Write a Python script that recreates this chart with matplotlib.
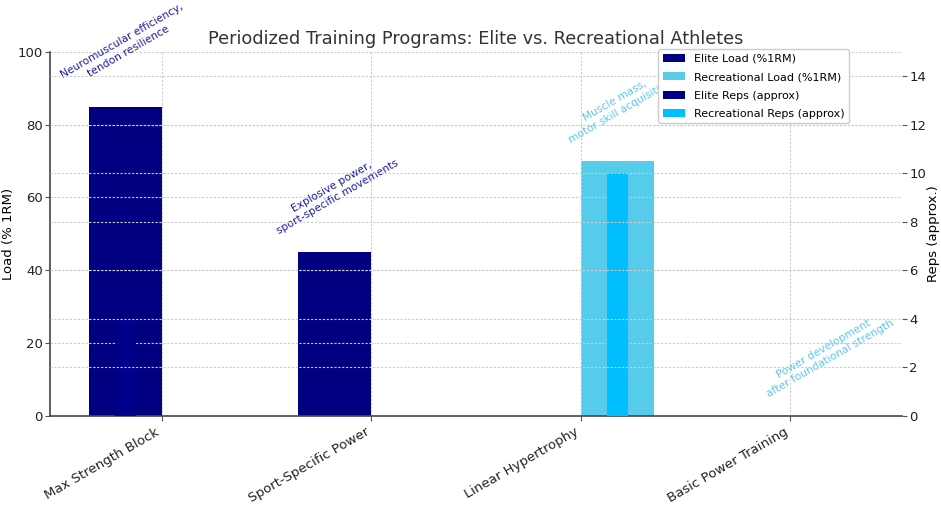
import matplotlib
matplotlib.use("Agg")
import matplotlib.pyplot as plt
import numpy as np

programs = ["Max Strength Block", "Sport-Specific Power", "Linear Hypertrophy", "Basic Power Training"]
elite_load = [85, 45, 0, 0]
rec_load = [0, 0, 70, 0]
elite_reps = [4, 0, 0, 0]
rec_reps = [0, 0, 10, 0]
notes = [
    ("Neuromuscular efficiency,\ntendon resilience", "elite"),
    ("Explosive power,\nsport-specific movements", "elite"),
    ("Muscle mass,\nmotor skill acquisition", "rec"),
    ("Power development\nafter foundational strength", "rec"),
]

NAVY = "#000080"
DARKBLUE = "#00008B"
REC = "#56CCEA"
DEEPSKY = "#00BFFF"

plt.rcParams["font.family"] = ["DejaVu Sans"]

fig = plt.figure(figsize=(9.41, 5.09), dpi=100)
ax = fig.add_axes([0.053, 0.183, 0.906, 0.715])
ax2 = ax.twinx()

x = np.arange(len(programs))
w = 0.35
ax.bar(x - w / 2, elite_load, w, color=NAVY, label="Elite Load (%1RM)")
ax.bar(x + w / 2, rec_load, w, color=REC, label="Recreational Load (%1RM)")
ax2.bar(x - w / 2, elite_reps, 0.1, color=DARKBLUE, label="Elite Reps (approx)")
ax2.bar(x + w / 2, rec_reps, 0.1, color=DEEPSKY, label="Recreational Reps (approx)")

ax.set_ylim(0, 100)
ax2.set_ylim(0, 15)
ax2.set_yticks(range(0, 15, 2))

# notes above the bar that carries the value
for i, (txt, grp) in enumerate(notes):
    if grp == "elite":
        xi, yi, c = x[i] - w / 2, elite_load[i], "#1a1aa0"
    else:
        xi, yi, c = x[i] + w / 2, rec_load[i], "#5cc8ea"
    ax.text(xi, yi + 4.5, txt, rotation=30, ha="center", va="bottom",
            fontsize=7.7, color=c, zorder=3)

ax.set_xticks(x)
ax.set_xticklabels(programs, rotation=30, ha="right", fontsize=9.5)
ax.set_ylabel("Load (% 1RM)", fontsize=9.5, labelpad=2)
ax2.set_ylabel("Reps (approx.)", fontsize=9.5, labelpad=0.5)
ax.tick_params(axis="y", labelsize=9.5, length=3.5, pad=1.5, color="#555555")
ax.tick_params(axis="x", length=3.5, color="#555555")
ax2.tick_params(axis="y", labelsize=9.5, length=3.5, pad=1.5, color="#555555")
for lab in ax.get_xticklabels() + ax.get_yticklabels() + ax2.get_yticklabels():
    lab.set_color("#222222")

grid_kw = dict(color="#cccccc", linestyle=(0, (2, 1.5)), linewidth=0.8)
ax.grid(True, **grid_kw)
ax2.grid(True, axis="y", **grid_kw)

for sp in ["top", "right"]:
    ax.spines[sp].set_visible(False)
for sp in ax2.spines.values():
    sp.set_visible(False)
for sp in ["left", "bottom"]:
    ax.spines[sp].set_color("#444444")
    ax.spines[sp].set_linewidth(1.2)

ax.set_title("Periodized Training Programs: Elite vs. Recreational Athletes",
             fontsize=12.8, color="#333333", pad=6)

h1, l1 = ax.get_legend_handles_labels()
h2, l2 = ax2.get_legend_handles_labels()
ax2.legend(h1 + h2, l1 + l2, loc="upper right", bbox_to_anchor=(0.944, 1.022),
           fontsize=8, framealpha=1, edgecolor="#cccccc", labelspacing=0.75)

fig.savefig("out.png", dpi=100)
